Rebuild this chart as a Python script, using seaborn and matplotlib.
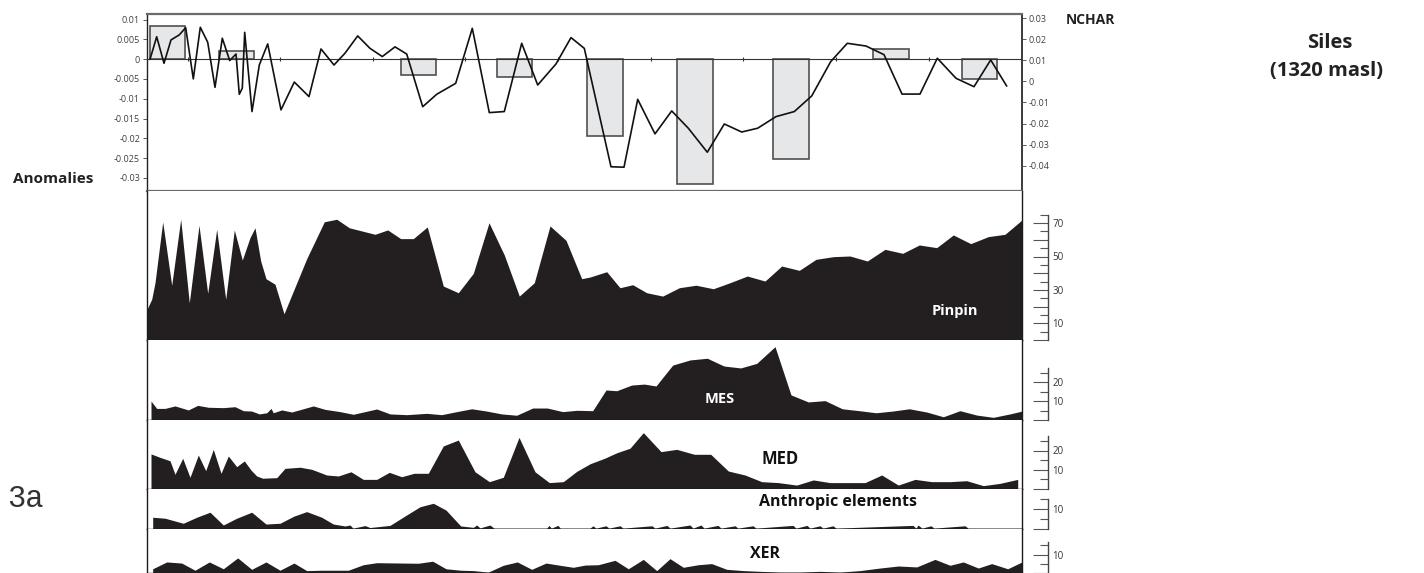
import numpy as np
import pandas as pd
import matplotlib
matplotlib.use("Agg")
import matplotlib.pyplot as plt
import seaborn as sns
from matplotlib.ticker import FixedLocator, FixedFormatter

# ---------------- data ----------------
# Top panel: anomaly bars (left axis) and NCHAR curve (right axis)
bar_pos = [20.5, 89.5, 271.5, 367.5, 458, 548, 644, 744, 832.5]
bar_anom = [0.0083, 0.0020, -0.0040, -0.0045, -0.0194, -0.0316, -0.0253, 0.0025, -0.0051]

nchar_pos = [3, 9.7, 17, 24, 32.3, 38.7, 46.3, 53.3, 60.7, 68,
             75.3, 82.7, 89, 92.3, 95.3, 97.7, 105, 112.3, 120.7, 134,
             147.3, 162, 174, 187, 198, 210.7, 223, 235.3, 248, 259.7,
             275.7, 289.7, 308.7, 325.3, 342.3, 357.3, 374.7, 390.7, 409, 424,
             437.3, 464, 477, 490.7, 508, 524.7, 541.3, 560.3, 577.3, 594.7,
             610.7, 629, 647.3, 664.7, 683.7, 700.3, 719, 737, 755, 773,
             790.3, 809, 827, 843.7, 859.7]
nchar_val = [0.0105, 0.0212, 0.0086, 0.0197, 0.0221, 0.0255, 0.0012, 0.0257, 0.0186, -0.0028,
             0.0205, 0.0099, 0.0130, -0.0061, -0.0032, 0.0233, -0.0143, 0.0078, 0.0178, -0.0135,
             -0.0003, -0.0072, 0.0154, 0.0078, 0.0134, 0.0216, 0.0157, 0.0118, 0.0164, 0.0130,
             -0.0120, -0.0061, -0.0009, 0.0252, -0.0148, -0.0143, 0.0181, -0.0017, 0.0083, 0.0208,
             0.0157, -0.0405, -0.0407, -0.0085, -0.0249, -0.0140, -0.0222, -0.0336, -0.0202, -0.0240,
             -0.0222, -0.0167, -0.0143, -0.0069, 0.0094, 0.0181, 0.0168, 0.0127, -0.0060, -0.0060,
             0.0110, 0.0015, -0.0025, 0.0102, -0.0022]

left_ticks = [0.01, 0.005, 0, -0.005, -0.01, -0.015, -0.02, -0.025, -0.03]
left_labels = ["0.01", "0.005", "0", "-0.005", "-0.01", "-0.015", "-0.02", "-0.025", "-0.03"]
right_ticks = [0.03, 0.02, 0.01, 0, -0.01, -0.02, -0.03, -0.04]
right_labels = ["0.03", "0.02", "0.01", "0", "-0.01", "-0.02", "-0.03", "-0.04"]
axis_tick_pos = [41, 133, 226, 318, 411, 504, 596, 689, 782]

# Pollen curves (%)
pinpin_pos = [0, 4.7, 8, 15.7, 24.7, 33.7, 42.3, 52, 60.7, 69.7,
              78.7, 87.3, 95.3, 103, 108, 113.7, 119, 128, 137, 159.7,
              177.3, 189.7, 202.3, 228, 240.7, 253.7, 266.3, 280.3, 296.3, 311.3,
              326.3, 342, 357.3, 372.3, 387.3, 403, 419, 434.7, 443, 459.7,
              473, 485.7, 499.7, 515.7, 532.3, 549, 566.3, 583, 600.3, 618,
              634.7, 652.3, 669, 686.3, 703, 720.3, 738, 755.7, 772.3, 789.7,
              806.3, 823.7, 841.3, 858, 875]
pinpin_val = [18.4, 24.4, 34.3, 70.7, 32.8, 72.3, 22.3, 68.7, 28.0, 66.3,
              24.4, 65.9, 47.9, 61.3, 67.2, 47.3, 36.7, 33.4, 15.7, 48.7,
              70.8, 72.3, 67.2, 63.3, 65.9, 60.7, 60.7, 67.7, 32.3, 28.3,
              39.9, 70.2, 50.9, 26.3, 34.3, 68.3, 59.7, 36.7, 37.7, 40.9,
              31.3, 33.1, 28.3, 26.3, 31.3, 32.8, 30.7, 34.3, 38.3, 35.3,
              44.3, 41.7, 48.3, 49.9, 50.3, 47.3, 54.3, 51.9, 56.9, 55.3,
              62.9, 57.7, 61.9, 63.3, 71.9]

mes_pos = [4, 9.7, 18, 28, 41.3, 50.7, 61.3, 76.3, 88, 96.3,
           104.7, 112.3, 119.7, 124, 126.3, 134.7, 144.7, 166.3, 178, 193,
           206.3, 229.7, 243, 259.7, 279.7, 294.7, 309.7, 324.7, 339.7, 354.7,
           369.7, 385.7, 400.3, 415.7, 429.7, 445.7, 459, 469.7, 484.7, 497.3,
           509, 525.7, 543, 560.3, 577, 593.7, 609.7, 628, 644, 661.3,
           678, 695.3, 712.3, 729, 745.7, 762.3, 779.7, 796.3, 813, 829.7,
           846.3, 863, 875]
mes_val = [10.0, 6.1, 6.1, 7.4, 5.3, 7.7, 6.7, 6.5, 7.0, 4.9,
           4.7, 3.2, 3.8, 6.1, 3.8, 5.3, 4.2, 7.4, 5.6, 4.4,
           3.0, 5.8, 3.2, 2.8, 3.5, 2.8, 4.4, 5.9, 4.7, 3.2,
           2.5, 6.3, 6.3, 4.4, 5.1, 4.9, 15.8, 15.4, 18.4, 18.9,
           17.9, 28.9, 31.6, 32.5, 28.4, 27.4, 29.8, 38.6, 13.2, 9.5,
           10.2, 5.9, 4.9, 3.8, 4.7, 5.9, 4.2, 1.7, 4.9, 2.6,
           1.4, 3.2, 4.7]

med_pos = [4, 13, 23, 28, 35.7, 43, 51.3, 58.7, 66.3, 74,
           81.3, 89.7, 97.3, 104, 109.7, 115.7, 129.7, 138, 153, 164.7,
           179.7, 191.3, 204, 216.3, 229.7, 242.3, 254.7, 267, 281.3, 296.3,
           311.3, 328, 342.3, 356.3, 372, 388, 402.3, 416.3, 429.7, 443,
           458, 469.7, 483, 496.3, 514, 529.7, 547.3, 563.7, 581.3, 598,
           614.7, 631.3, 649.7, 666.3, 683, 699.7, 718, 734.7, 751.3, 768,
           784.7, 803, 819.7, 836.3, 853, 870.7]
med_val = [18.2, 16.4, 14.6, 7.5, 15.9, 5.9, 17.6, 9.4, 20.6, 8.0,
           17.1, 11.5, 14.5, 9.7, 6.6, 5.4, 5.7, 10.6, 11.2, 10.1,
           7.1, 6.6, 8.8, 4.8, 4.8, 8.5, 6.2, 8.0, 8.0, 22.4,
           25.5, 8.8, 3.6, 5.9, 26.9, 8.8, 3.1, 3.6, 9.0, 13.0,
           16.0, 18.8, 21.2, 29.4, 19.4, 20.6, 18.0, 18.0, 9.2, 7.1,
           3.6, 3.1, 1.8, 4.5, 3.1, 3.1, 3.1, 7.1, 1.8, 4.8,
           3.6, 3.6, 4.1, 1.5, 2.7, 4.8]

anth_pos = [5.7, 18, 36.3, 49.7, 63, 76.3, 89.7, 104.7, 119, 133,
            147, 159.7, 174.7, 186.3, 198, 203, 206, 218, 223, 243,
            259.7, 273, 286.3, 299, 313.7, 326.3, 329.7, 333, 343, 347,
            360, 399.7, 402, 404.3, 411, 413.3, 443, 446, 449, 459,
            462, 473, 476, 505, 508, 520, 523, 543, 546, 554,
            557, 571, 574, 588, 591, 606, 609, 646, 649, 660,
            663, 673, 676, 686, 689, 766, 769, 771, 775, 784,
            787, 818, 821, 875]
anth_val = [5.8, 5.3, 2.7, 5.8, 8.4, 1.8, 5.3, 8.4, 2.3, 2.7,
            6.4, 8.7, 5.8, 2.3, 1.3, 1.8, 0.2, 1.5, 0.5, 1.6,
            7.0, 11.2, 13.0, 9.5, 1.3, 0.6, 1.8, 0.3, 1.8, 0.2,
            0.2, 0.2, 1.6, 0.2, 1.6, 0.2, 0.2, 1.4, 0.2, 1.4,
            0.2, 1.4, 0.2, 1.4, 0.2, 1.6, 0.2, 1.8, 0.2, 1.8,
            0.2, 1.6, 0.2, 1.4, 0.2, 1.4, 0.2, 1.6, 0.2, 1.6,
            0.2, 1.4, 0.2, 1.4, 0.2, 1.6, 0.2, 1.8, 0.2, 1.4,
            0.2, 1.4, 0.2, 0.2]

xer_pos = [5.7, 19.7, 34.7, 48, 62.3, 76.3, 90.7, 104.7, 119, 133,
           147, 159.7, 174.7, 201.3, 216.3, 229.7, 256.3, 271.3, 285.7, 299,
           313.7, 326.3, 341.3, 356.3, 370.3, 384.7, 399, 413, 426.3, 438,
           451.3, 468, 481.3, 496.3, 509.7, 523, 536.3, 551.3, 564.7, 579.7,
           596.3, 613, 633, 653, 673, 693, 713, 733, 751.3, 769.7,
           788, 803, 816.3, 831.3, 844.7, 860.7, 875]
xer_val = [2.3, 6.0, 5.4, 1.5, 6.0, 2.3, 8.2, 2.0, 6.0, 1.5,
           5.4, 1.3, 1.5, 1.5, 4.5, 5.6, 5.4, 5.3, 6.4, 2.3,
           1.5, 1.3, 0.5, 4.2, 6.0, 2.0, 5.4, 4.2, 3.1, 4.3,
           4.5, 6.9, 2.3, 7.4, 1.3, 7.8, 3.1, 4.5, 5.1, 2.0,
           1.3, 0.9, 0.5, 0.5, 0.9, 0.5, 1.3, 2.7, 3.8, 3.3,
           7.4, 4.2, 6.0, 2.7, 5.1, 2.3, 6.0]

# ---------------- style ----------------
sns.set_theme(style="white")
plt.rcParams['font.family'] = ['Open Sans', 'DejaVu Sans']
plt.rcParams['font.monospace'] = ['Liberation Mono']

FILL = "#231f20"
W, H = 1424, 573
fig = plt.figure(figsize=(W / 100, H / 100), dpi=100)


def rect(x0, y0, x1, y1):
    return [x0 / W, 1 - y1 / H, (x1 - x0) / W, (y1 - y0) / H]


XL, XR = 147, 1022
XMAX = 875

# ---------------- top panel ----------------
ax = fig.add_axes(rect(XL, 14, XR, 191))
ax.set_xlim(0, XMAX)
ax.set_ylim(-0.0333, 0.0114)
ax.bar(bar_pos, bar_anom, width=35.5, color="#e6e7e9", edgecolor="#505050", linewidth=1.2, zorder=2)
ax.axhline(0, color="#333333", lw=0.8, zorder=3)
ax.plot(axis_tick_pos, [0] * len(axis_tick_pos), ls="none", marker="|", ms=3,
        mew=0.8, color="#333333", zorder=3)
ax.set_yticks(left_ticks)
ax.set_yticklabels(left_labels)
ax.set_xticks([])
ax.tick_params(axis="y", direction="out", length=3, width=0.6, pad=2,
               labelsize=6.5, colors="#404040", left=True)
for s in ["top", "bottom"]:
    ax.spines[s].set_color("#6a6a6a")
    ax.spines[s].set_linewidth(1.6)
ax.spines["left"].set_color("#222222")
ax.spines["right"].set_color("#222222")
ax.spines["left"].set_linewidth(1.0)

ax2 = ax.twinx()
df_n = pd.DataFrame({"pos": nchar_pos, "nchar": nchar_val})
sns.lineplot(data=df_n, x="pos", y="nchar", ax=ax2, color="#111111", lw=1.2, zorder=4)
ax2.set_ylim(-0.052, 0.032)
ax2.set_xlim(0, XMAX)
ax2.set_yticks(right_ticks)
ax2.set_yticklabels(right_labels)
ax2.set_xlabel("")
ax2.set_ylabel("")
ax2.tick_params(axis="y", direction="out", length=3, width=0.6, pad=2,
                labelsize=6.5, colors="#404040", right=True)
for s in ax2.spines.values():
    s.set_visible(False)

# ---------------- pollen panels ----------------
panels = [
    # name, pos, val, y0, y1, px per unit, scale top, major, minor, labels
    ("Pinpin", pinpin_pos, pinpin_val, 191, 340, 1.67, 75, [0, 10, 20, 30, 40, 50, 60, 70],
     [5, 15, 25, 35, 45, 55, 65, 75], ["", "10", "", "30", "", "50", "", "70"]),
    ("MES", mes_pos, mes_val, 340, 420, 1.9, 27.5, [0, 10, 20], [5, 15, 25], ["", "10", "20"]),
    ("MED", med_pos, med_val, 420, 488.5, 1.9, 27.5, [0, 10, 20], [5, 15, 25], ["", "10", "20"]),
    ("Anth", anth_pos, anth_val, 488.5, 528.5, 1.94, 15, [0, 10], [5, 15], ["", "10"]),
    ("XER", xer_pos, xer_val, 528.5, 573, 1.84, 17, [0, 10], [5, 15], ["", "10"]),
]

for name, pos, val, y0, y1, ppu, top, major, minor, labs in panels:
    ymax = (y1 - y0) / ppu
    a = fig.add_axes(rect(XL, y0, XR, y1))
    a.set_xlim(0, XMAX)
    a.set_ylim(0, ymax)
    a.fill_between(pos, 0, val, color=FILL, lw=0)
    a.set_xticks([])
    a.set_yticks([])
    a.spines["top"].set_visible(False)
    for s in ["left", "right", "bottom"]:
        a.spines[s].set_color("#1a1a1a")
        a.spines[s].set_linewidth(1.0)

    # scale bar (own axes, same y scale)
    sa = fig.add_axes(rect(1047.6, y0, 1048, y1))
    sa.set_ylim(0, ymax)
    sa.patch.set_alpha(0)
    for s in ["left", "top", "bottom"]:
        sa.spines[s].set_visible(False)
    sa.spines["right"].set_color("#444444")
    sa.spines["right"].set_linewidth(1.0)
    sa.spines["right"].set_bounds(0, top)
    sa.set_xticks([])
    sa.yaxis.tick_right()
    sa.yaxis.set_major_locator(FixedLocator(major))
    sa.yaxis.set_major_formatter(FixedFormatter(labs))
    sa.yaxis.set_minor_locator(FixedLocator(minor))
    sa.tick_params(axis="y", which="major", direction="in", length=11, width=0.8,
                   color="#555555", pad=3, labelsize=7, labelcolor="#333333")
    sa.tick_params(axis="y", which="minor", direction="in", length=5.5, width=0.8,
                   color="#555555", right=True)

# ---------------- texts ----------------
def ftext(x, y, s, **kw):
    fig.text(x / W, 1 - y / H, s, ha="center", va="center", **kw)


ftext(53, 179, "Anomalies", fontsize=11, fontweight="bold", color="#222222")
ftext(1090, 20, "NCHAR", fontsize=10, fontweight="bold", color="#222222")
ftext(1330, 43, "Siles", fontsize=14.5, fontweight="bold", color="#222222")
ftext(1326, 71, "(1320 masl)", fontsize=14.5, fontweight="bold", color="#222222")
ftext(25, 499, "3a", fontsize=22, family="monospace", color="#333333")
ftext(955, 311, "Pinpin", fontsize=10.5, fontweight="bold", color="white")
ftext(720, 399, "MES", fontsize=10.5, fontweight="bold", color="white")
ftext(780, 459, "MED", fontsize=12, fontweight="bold", color="#111111")
ftext(838, 502, "Anthropic elements", fontsize=11.5, fontweight="bold", color="#111111")
ftext(765, 554, "XER", fontsize=11.5, fontweight="bold", color="#111111")

fig.savefig("out.png", dpi=100)
